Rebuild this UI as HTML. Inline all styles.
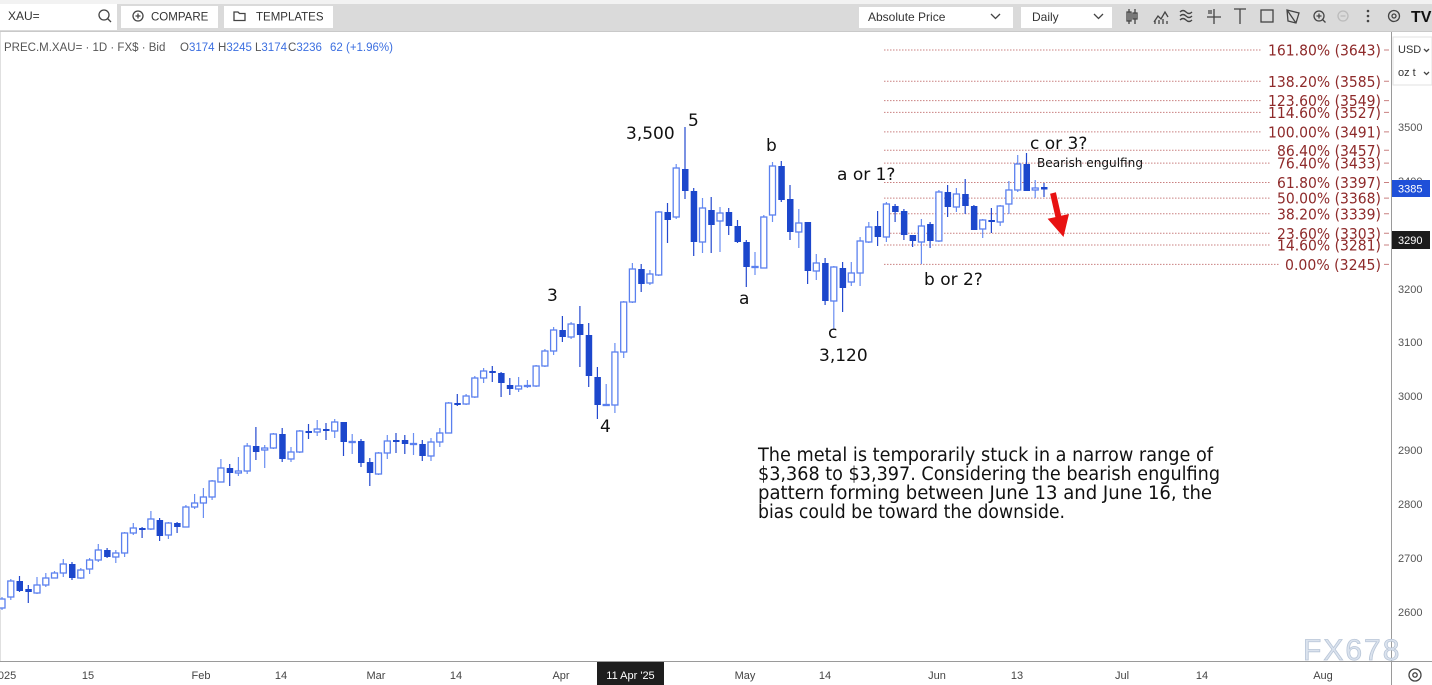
<!DOCTYPE html>
<html><head><meta charset="utf-8">
<style>
html,body{margin:0;padding:0;background:#fff;width:1432px;height:685px;overflow:hidden}
svg{display:block}
.ls{font-family:"Liberation Sans",sans-serif}
.dj{font-family:"DejaVu Sans","Liberation Sans",sans-serif}
.wu{stroke:#6a8ef2;stroke-width:1.2;fill:none}
.wd{stroke:#2449cf;stroke-width:1.2;fill:none}
.bu{fill:#fff;stroke:#5a80ef;stroke-width:1.3}
.bd{fill:#1c47cc}
.fib{stroke:#c98080;stroke-width:1;stroke-dasharray:1.5 1.5}
.fl{font-family:"DejaVu Sans","Liberation Sans",sans-serif;font-size:15.5px;fill:#8e2a2a}
.ax{font-family:"Liberation Sans",sans-serif;font-size:11px;fill:#555}
.dt{font-family:"Liberation Sans",sans-serif;font-size:11px;fill:#444;text-anchor:middle}
.wv{font-family:"DejaVu Sans","Liberation Sans",sans-serif;font-size:17px;fill:#111}
.ic{stroke:#444;stroke-width:1.3;fill:none}
</style></head>
<body>
<svg width="1432" height="685" viewBox="0 0 1432 685" xmlns="http://www.w3.org/2000/svg">
<!-- toolbar -->
<rect x="0" y="0" width="1432" height="32" fill="#f2f2f2"/>
<rect x="0" y="4" width="1432" height="27" fill="#dadada"/>
<rect x="0" y="4" width="117" height="26" fill="#fff"/>
<text x="8" y="20" class="ls" font-size="12" fill="#333">XAU=</text>
<circle cx="104" cy="15" r="5" class="ic"/><path d="M107.5 18.5L111 22" class="ic"/>
<rect x="121" y="6" width="97" height="22" fill="#fff"/>
<circle cx="138" cy="16" r="5" class="ic"/><path d="M135.5 16h5M138 13.5v5" class="ic"/>
<text x="151" y="20.5" class="ls" font-size="11.5" fill="#333">COMPARE</text>
<rect x="224" y="6" width="109" height="22" fill="#fff"/>
<path d="M234 12h4l1.5 1.5H245v7h-11z" class="ic"/>
<text x="256" y="20.5" class="ls" font-size="11.5" fill="#333">TEMPLATES</text>
<rect x="859" y="7" width="154" height="21" fill="#fff"/>
<text x="868" y="21" class="ls" font-size="12" fill="#333">Absolute Price</text>
<path d="M991 14l4.5 4.5L1000 14" class="ic"/>
<rect x="1021" y="7" width="91" height="21" fill="#fff"/>
<text x="1032" y="21" class="ls" font-size="12" fill="#333">Daily</text>
<path d="M1094 14l4.5 4.5L1103 14" class="ic"/>
<!-- icons -->
<path d="M1129 9v15M1135 9v15M1127 12h4v9h-4zM1133 13h4v6h-4z" class="ic"/>
<path d="M1154 22l4-6 3 3 4-7 3 5M1155 24v-3M1159 24v-4M1163 24v-5M1167 24v-3" class="ic"/>
<path d="M1180 12q3-3 6 0t6 0M1180 16q3-3 6 0t6 0M1180 20q3-3 6 0t6 0" class="ic"/>
<path d="M1207 17h14M1214 9v15M1208 11h4M1208 13h4" class="ic"/>
<path d="M1234 9h12M1240 9v15" class="ic"/>
<rect x="1261" y="10" width="12" height="12" class="ic"/>
<path d="M1287 10l12 3-3 10-8-2zM1287 10l9 13" class="ic"/>
<circle cx="1319" cy="16" r="5" class="ic"/><path d="M1316.5 16h5M1319 13.5v5M1322.5 19.5l3 3" class="ic"/>
<circle cx="1343" cy="16" r="5" stroke="#bbb" stroke-width="1.3" fill="none"/><path d="M1340.5 16h5" stroke="#bbb" stroke-width="1.3"/>
<circle cx="1368" cy="11" r="1.3" fill="#444"/><circle cx="1368" cy="16" r="1.3" fill="#444"/><circle cx="1368" cy="21" r="1.3" fill="#444"/>
<circle cx="1394" cy="16" r="5.5" class="ic"/><circle cx="1394" cy="16" r="2" class="ic"/>
<text x="1411" y="22" class="ls" font-size="16" font-weight="bold" fill="#111">TV</text>
<rect x="0" y="31" width="1432" height="1" fill="#c9c9c9"/>

<!-- info line -->
<text x="4" y="51" class="ls" font-size="11.5" fill="#555">PREC.M.XAU= · 1D · FX$ · Bid</text>
<text y="51" class="ls" font-size="11.5"><tspan x="180" fill="#555">O</tspan><tspan fill="#3c6fe0">3174</tspan><tspan x="218" fill="#555">H</tspan><tspan fill="#3c6fe0">3245</tspan><tspan x="255" fill="#555">L</tspan><tspan fill="#3c6fe0">3174</tspan><tspan x="288" fill="#555">C</tspan><tspan fill="#3c6fe0">3236</tspan><tspan x="330" fill="#3c6fe0">62 (+1.96%)</tspan></text>

<!-- left border & axes -->
<rect x="0" y="32" width="1" height="630" fill="#e0e0e0"/>
<rect x="1391" y="32" width="1" height="653" fill="#9a9a9a"/>
<rect x="0" y="661" width="1432" height="1" fill="#9a9a9a"/>

<!-- fib lines -->
<path class="fib" d="M884 50H1262M884 81.2H1262M884 100.6H1262M884 112.4H1262M884 131.9H1262M884 150.2H1271M884 163.1H1271M884 182.5H1271M884 198.1H1271M884 213.8H1271M884 233.2H1271M884 245H1271M884 264.4H1280"/>
<path stroke="#c98080" stroke-width="1" d="M1384 50h5M1384 81.2h5M1384 100.6h5M1384 112.4h5M1384 131.9h5M1384 150.2h5M1384 163.1h5M1384 182.5h5M1384 198.1h5M1384 213.8h5M1384 233.2h5M1384 245h5M1384 264.4h5"/>
<text class="fl" x="1268" y="55.6" textLength="113" lengthAdjust="spacingAndGlyphs">161.80% (3643)</text>
<text class="fl" x="1268" y="86.8" textLength="113" lengthAdjust="spacingAndGlyphs">138.20% (3585)</text>
<text class="fl" x="1268" y="106.2" textLength="113" lengthAdjust="spacingAndGlyphs">123.60% (3549)</text>
<text class="fl" x="1268" y="118" textLength="113" lengthAdjust="spacingAndGlyphs">114.60% (3527)</text>
<text class="fl" x="1268" y="137.5" textLength="113" lengthAdjust="spacingAndGlyphs">100.00% (3491)</text>
<text class="fl" x="1277" y="155.8" textLength="104" lengthAdjust="spacingAndGlyphs">86.40% (3457)</text>
<text class="fl" x="1277" y="168.7" textLength="104" lengthAdjust="spacingAndGlyphs">76.40% (3433)</text>
<text class="fl" x="1277" y="188.1" textLength="104" lengthAdjust="spacingAndGlyphs">61.80% (3397)</text>
<text class="fl" x="1277" y="203.7" textLength="104" lengthAdjust="spacingAndGlyphs">50.00% (3368)</text>
<text class="fl" x="1277" y="219.4" textLength="104" lengthAdjust="spacingAndGlyphs">38.20% (3339)</text>
<text class="fl" x="1277" y="238.8" textLength="104" lengthAdjust="spacingAndGlyphs">23.60% (3303)</text>
<text class="fl" x="1277" y="250.6" textLength="104" lengthAdjust="spacingAndGlyphs">14.60% (3281)</text>
<text class="fl" x="1285" y="270" textLength="96" lengthAdjust="spacingAndGlyphs">0.00% (3245)</text>

<!-- wicks -->
<path class="wu" d="M2 597V610M10.8 579V600M37 577V594M45.8 573V587M54.5 571V578M63.3 559V577M80.8 568V579M89.6 558V574M98.3 544V562M115.8 550V563M124.6 532V557M133.3 523V535M150.9 511V530M168.4 522V539M185.9 505V527M194.6 494V509M203.4 488V518M212.1 480V500M220.9 459V482M238.4 457V476M247.2 443V474M264.7 445V468M273.4 433V449M291 447V462M299.7 430V453M317.2 420V436M334.7 419V438M352.2 434V454M378.5 452V475M387.3 435V459M413.5 433V455M431 438V461M439.8 428V447M448.6 402V433M466.1 394V405M474.8 376V398M483.6 368V383M518.6 377V392M527.4 380V388M536.1 365V387M544.9 349V367M553.6 327V355M571.1 322V339M606.2 384V406M614.9 343V413M623.7 301V358M632.4 263V303M649.9 270V285M658.7 211V276M676.2 164V219M702.5 198V253M720 207V252M755 252V275M763.8 215V268M772.5 162V222M798.8 209V248M816.3 254V280M833.8 266V330M851.3 262V286M860.1 237V286M868.8 222V243M886.4 202V242M921.4 219V264M938.9 190V242M956.4 188V212M982.7 219V238M1000.2 205V226M1008.9 181V214M1017.7 155V192M1035.2 180V198"/>
<path class="wd" d="M19.5 576V592M28.3 585V603M72 562V580M107.1 548V558M142.1 527V538M159.6 518V541M177.1 522V533M229.7 464V486M255.9 427V460M282.2 428V462M308.5 424V439M326 423V440M343.5 422V456M361 439V467M369.8 458V486M396 433V453M404.8 435V454M422.3 440V461M457.3 394V406M492.3 366V382M501.1 372V397M509.8 378V395M562.4 316V342M579.9 306V367M588.7 323V387M597.4 367V419M641.2 264V292M667.5 203V243M685 127V199M693.7 188V256M711.2 197V253M728.7 208V235M737.5 220V243M746.3 240V287M781.3 161V202M790 185V240M807.6 222V284M825.1 258V305M842.6 262V312M877.6 211V246M895.1 204V222M903.9 209V240M912.6 235V247M930.1 222V248M947.6 185V217M965.2 179V214M973.9 205V230M991.4 208V233M1026.5 153V191M1044 183V197"/>

<!-- up bodies -->
<g class="bu">
<rect x="-1" y="599" width="6" height="9"/>
<rect x="7.8" y="581" width="6" height="16"/>
<rect x="34" y="585" width="6" height="8"/>
<rect x="42.8" y="578" width="6" height="7"/>
<rect x="51.5" y="573" width="6" height="5"/>
<rect x="60.3" y="564" width="6" height="9"/>
<rect x="77.8" y="570" width="6" height="8"/>
<rect x="86.6" y="560" width="6" height="9"/>
<rect x="95.3" y="550" width="6" height="10"/>
<rect x="112.8" y="553" width="6" height="4"/>
<rect x="121.6" y="533" width="6" height="20"/>
<rect x="130.3" y="528" width="6" height="5"/>
<rect x="147.9" y="519" width="6" height="10"/>
<rect x="165.4" y="523" width="6" height="12"/>
<rect x="182.9" y="507" width="6" height="20"/>
<rect x="191.6" y="503" width="6" height="4"/>
<rect x="200.4" y="497" width="6" height="6"/>
<rect x="209.1" y="481" width="6" height="16"/>
<rect x="217.9" y="468" width="6" height="14"/>
<rect x="235.4" y="471" width="6" height="2"/>
<rect x="244.2" y="446" width="6" height="25"/>
<rect x="261.7" y="448" width="6" height="2"/>
<rect x="270.4" y="434" width="6" height="14"/>
<rect x="288" y="452" width="6" height="7"/>
<rect x="296.7" y="431" width="6" height="21"/>
<rect x="314.2" y="429" width="6" height="3"/>
<rect x="331.7" y="422" width="6" height="9"/>
<rect x="349.2" y="441.5" width="6" height="1"/>
<rect x="375.5" y="453" width="6" height="21"/>
<rect x="384.3" y="441" width="6" height="12"/>
<rect x="410.5" y="443.5" width="6" height="1"/>
<rect x="428" y="442" width="6" height="14"/>
<rect x="436.8" y="433" width="6" height="9"/>
<rect x="445.6" y="403" width="6" height="30"/>
<rect x="463.1" y="396" width="6" height="8"/>
<rect x="471.8" y="378" width="6" height="19"/>
<rect x="480.6" y="371" width="6" height="7"/>
<rect x="515.6" y="386" width="6" height="3"/>
<rect x="524.4" y="385.5" width="6" height="1"/>
<rect x="533.1" y="366" width="6" height="20"/>
<rect x="541.9" y="351" width="6" height="15"/>
<rect x="550.6" y="330" width="6" height="21"/>
<rect x="568.1" y="324" width="6" height="13"/>
<rect x="603.2" y="404.5" width="6" height="1"/>
<rect x="611.9" y="352" width="6" height="53"/>
<rect x="620.7" y="302" width="6" height="50"/>
<rect x="629.4" y="269" width="6" height="33"/>
<rect x="646.9" y="274" width="6" height="9"/>
<rect x="655.7" y="212" width="6" height="63"/>
<rect x="673.2" y="168" width="6" height="49"/>
<rect x="699.5" y="208" width="6" height="34"/>
<rect x="717" y="213" width="6" height="8"/>
<rect x="752" y="266.5" width="6" height="1"/>
<rect x="760.8" y="217" width="6" height="51"/>
<rect x="769.5" y="166" width="6" height="49"/>
<rect x="795.8" y="223" width="6" height="9"/>
<rect x="813.3" y="263" width="6" height="8"/>
<rect x="830.8" y="267" width="6" height="34"/>
<rect x="848.3" y="273" width="6" height="9"/>
<rect x="857.1" y="241" width="6" height="32"/>
<rect x="865.8" y="227" width="6" height="15"/>
<rect x="883.4" y="204" width="6" height="33"/>
<rect x="918.4" y="226" width="6" height="16"/>
<rect x="935.9" y="192" width="6" height="49"/>
<rect x="953.4" y="194" width="6" height="13"/>
<rect x="979.7" y="220" width="6" height="9"/>
<rect x="997.2" y="206" width="6" height="16"/>
<rect x="1005.9" y="190" width="6" height="14"/>
<rect x="1014.7" y="164" width="6" height="26"/>
<rect x="1032.2" y="188" width="6" height="2"/>
</g>
<!-- down bodies -->
<g class="bd">
<rect x="16.5" y="581" width="6.5" height="10"/>
<rect x="25.3" y="589" width="6.5" height="3"/>
<rect x="69" y="564" width="6.5" height="14"/>
<rect x="104.1" y="550" width="6.5" height="7"/>
<rect x="139.1" y="528" width="6.5" height="2"/>
<rect x="156.6" y="520" width="6.5" height="16"/>
<rect x="174.1" y="523" width="6.5" height="4"/>
<rect x="226.7" y="468" width="6.5" height="5"/>
<rect x="252.9" y="446" width="6.5" height="6"/>
<rect x="279.2" y="434" width="6.5" height="25"/>
<rect x="305.5" y="431" width="6.5" height="2"/>
<rect x="323" y="429" width="6.5" height="2"/>
<rect x="340.5" y="422" width="6.5" height="20"/>
<rect x="358" y="441" width="6.5" height="22"/>
<rect x="366.8" y="462" width="6.5" height="11"/>
<rect x="393" y="440" width="6.5" height="2"/>
<rect x="401.8" y="440" width="6.5" height="4"/>
<rect x="419.3" y="444" width="6.5" height="12"/>
<rect x="454.3" y="403" width="6.5" height="2"/>
<rect x="489.3" y="371" width="6.5" height="2"/>
<rect x="498.1" y="373" width="6.5" height="10"/>
<rect x="506.8" y="385" width="6.5" height="4"/>
<rect x="559.4" y="330" width="6.5" height="7"/>
<rect x="576.9" y="324" width="6.5" height="11"/>
<rect x="585.7" y="335" width="6.5" height="41"/>
<rect x="594.4" y="377" width="6.5" height="28"/>
<rect x="638.2" y="269" width="6.5" height="15"/>
<rect x="664.5" y="212" width="6.5" height="8"/>
<rect x="682" y="169" width="6.5" height="22"/>
<rect x="690.7" y="191" width="6.5" height="51"/>
<rect x="708.2" y="210" width="6.5" height="15"/>
<rect x="725.7" y="212" width="6.5" height="14"/>
<rect x="734.5" y="226" width="6.5" height="16"/>
<rect x="743.3" y="242" width="6.5" height="25"/>
<rect x="778.3" y="166" width="6.5" height="34"/>
<rect x="787" y="199" width="6.5" height="33"/>
<rect x="804.6" y="222" width="6.5" height="49"/>
<rect x="822.1" y="263" width="6.5" height="38"/>
<rect x="839.6" y="268" width="6.5" height="20"/>
<rect x="874.6" y="226" width="6.5" height="11"/>
<rect x="892.1" y="206" width="6.5" height="6"/>
<rect x="900.9" y="211" width="6.5" height="24"/>
<rect x="909.6" y="235" width="6.5" height="6"/>
<rect x="927.1" y="224" width="6.5" height="17"/>
<rect x="944.6" y="192" width="6.5" height="15"/>
<rect x="962.2" y="194" width="6.5" height="12"/>
<rect x="970.9" y="206" width="6.5" height="24"/>
<rect x="988.4" y="220" width="6.5" height="2"/>
<rect x="1023.5" y="164" width="6.5" height="27"/>
<rect x="1041" y="187" width="6.5" height="2.5"/>
</g>

<!-- wave labels -->
<text class="wv" x="626" y="139">3,500</text>
<text class="wv" x="688" y="126">5</text>
<text class="wv" x="766" y="151">b</text>
<text class="wv" x="837" y="180">a or 1?</text>
<text class="wv" x="1030" y="149">c or 3?</text>
<text class="dj" x="1037" y="167" font-size="12.5" fill="#111" textLength="106" lengthAdjust="spacingAndGlyphs">Bearish engulfing</text>
<text class="wv" x="547" y="301">3</text>
<text class="wv" x="739" y="304">a</text>
<text class="wv" x="828" y="338">c</text>
<text class="wv" x="819" y="361">3,120</text>
<text class="wv" x="924" y="285">b or 2?</text>
<text class="wv" x="600" y="432">4</text>

<!-- red arrow -->
<polygon fill="#e81212" points="1055.9,192.3 1061.2,215.7 1069,214 1063.5,237 1047.6,218.8 1055.4,217.1 1050.1,193.7"/>

<!-- commentary -->
<g class="dj" font-size="18.5" fill="#111">
<text x="758" y="461" textLength="455" lengthAdjust="spacingAndGlyphs">The metal is temporarily stuck in a narrow range of</text>
<text x="758" y="480" textLength="462" lengthAdjust="spacingAndGlyphs">$3,368 to $3,397. Considering the bearish engulfing</text>
<text x="758" y="499" textLength="454" lengthAdjust="spacingAndGlyphs">pattern forming between June 13 and June 16, the</text>
<text x="758" y="518" textLength="307" lengthAdjust="spacingAndGlyphs">bias could be toward the downside.</text>
</g>

<!-- right axis -->
<rect x="1393" y="37" width="39" height="48" fill="#fff" stroke="#e2e2e2"/>
<text x="1398" y="53" class="ls" font-size="11" fill="#333">USD</text>
<path d="M1424 49l2.5 2.5 2.5-2.5" class="ic" stroke-width="1"/>
<text x="1398" y="76" class="ls" font-size="11" fill="#333">oz t</text>
<path d="M1424 72l2.5 2.5 2.5-2.5" class="ic" stroke-width="1"/>
<text class="ax" x="1398" y="131">3500</text>
<text class="ax" x="1398" y="185">3400</text>
<text class="ax" x="1398" y="239">3300</text>
<text class="ax" x="1398" y="293">3200</text>
<text class="ax" x="1398" y="346">3100</text>
<text class="ax" x="1398" y="400">3000</text>
<text class="ax" x="1398" y="454">2900</text>
<text class="ax" x="1398" y="508">2800</text>
<text class="ax" x="1398" y="562">2700</text>
<text class="ax" x="1398" y="616">2600</text>
<rect x="1392" y="180" width="38" height="17" fill="#1f50d8"/>
<text x="1398" y="192.5" class="ls" font-size="11" fill="#fff">3385</text>
<rect x="1392" y="231" width="38" height="18" fill="#1c1c1c"/>
<text x="1398" y="244" class="ls" font-size="11" fill="#fff">3290</text>

<!-- watermark -->
<text x="1303" y="660" class="ls" font-size="30" letter-spacing="2" fill="#dbe3ee" stroke="#b9c6d8" stroke-width="0.8">FX678</text>

<!-- bottom axis -->
<text class="dt" x="7" y="679">025</text>
<text class="dt" x="88" y="679">15</text>
<text class="dt" x="201" y="679">Feb</text>
<text class="dt" x="281" y="679">14</text>
<text class="dt" x="376" y="679">Mar</text>
<text class="dt" x="456" y="679">14</text>
<text class="dt" x="561" y="679">Apr</text>
<rect x="597" y="662" width="67" height="23" fill="#1e1e1e"/>
<text class="dt" x="630.5" y="679" style="fill:#fff">11 Apr '25</text>
<text class="dt" x="745" y="679">May</text>
<text class="dt" x="825" y="679">14</text>
<text class="dt" x="937" y="679">Jun</text>
<text class="dt" x="1017" y="679">13</text>
<text class="dt" x="1122" y="679">Jul</text>
<text class="dt" x="1202" y="679">14</text>
<text class="dt" x="1323" y="679">Aug</text>
<circle cx="1415" cy="675" r="6" class="ic"/><circle cx="1415" cy="675" r="2.2" class="ic"/>
</svg>
</body></html>
